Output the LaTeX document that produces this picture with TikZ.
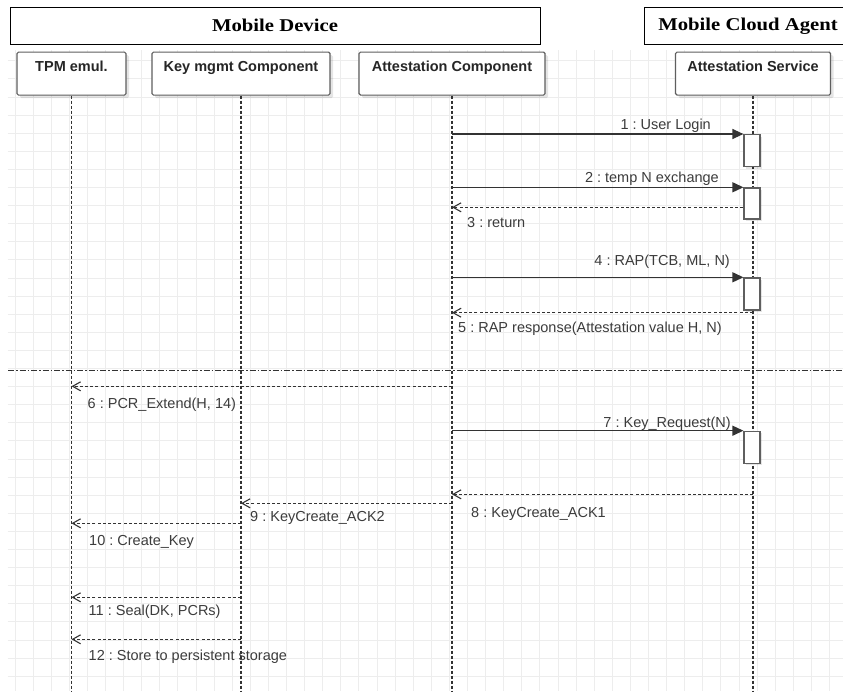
\documentclass[tikz,border=0pt]{standalone}
\usepackage{fontspec}
\setmainfont{Liberation Sans}
\newfontfamily\hdrfont[FakeStretch=1.15]{Liberation Serif}
\usetikzlibrary{arrows.meta,shadows}
\frenchspacing

\definecolor{ink}{HTML}{333333}
\definecolor{boxline}{HTML}{5F5F5F}
\definecolor{gridcol}{HTML}{EDEDED}
\definecolor{lbl}{HTML}{3C3C3C}

\begin{document}
\begin{tikzpicture}[x=1pt,y=-1pt,
  header/.style={draw=black, line width=0.9pt, fill=white, inner sep=0pt,
    font=\hdrfont\bfseries\fontsize{18}{20}\selectfont},
  lifebox/.style={draw=boxline, fill=white, line width=1.2pt, rounded corners=1.5pt,
    inner sep=0pt, text height=19pt, text depth=24pt, anchor=north,
    font=\bfseries\fontsize{14.5}{16}\selectfont, text=black!85,
    drop shadow={shadow xshift=3pt, shadow yshift=-3pt, opacity=0.1, fill=black}},
  actbox/.style={draw=boxline, fill=white, line width=1.2pt, inner sep=0pt,
    minimum width=16pt, anchor=north,
    drop shadow={shadow xshift=2pt, shadow yshift=-2pt, opacity=0.1, fill=black}},
  lifeline/.style={draw=ink, line width=1.4pt, dash pattern=on 3pt off 2pt},
  call/.style={draw=ink, line width=1.3pt, -{Triangle[length=11pt,width=10pt]}},
  reply/.style={draw=ink, line width=1.2pt, dash pattern=on 3pt off 2.2pt,
    -{Straight Barb[length=8pt,width=9pt,line width=1.1pt]}},
  msglabel/.style={font=\fontsize{14.5}{16}\selectfont, text=lbl, inner sep=0pt},
  separator/.style={draw=ink, line width=1.1pt, dash pattern=on 6pt off 2pt on 1.5pt off 2pt},
]
\useasboundingbox (0,0) rectangle (843,691);
\fill[white] (0,0) rectangle (843,691);

% background grid
\foreach \gx in {0,...,45}
  \draw[gridcol, line width=0.8pt] ({14.9+18.1*\gx},50) -- ({14.9+18.1*\gx},691);
\foreach \gy in {0,...,34}
  \draw[gridcol, line width=0.8pt] (7.5,{60.7+18.1*\gy}) -- (843,{60.7+18.1*\gy});

% system headers
\node[header, minimum width=530pt, minimum height=36.5pt] (md) at (275,25.75) {Mobile Device};
\node[header, minimum width=208pt, minimum height=36.5pt] (mca) at (748,25.75) {Mobile Cloud Agent};

% participants
\node[lifebox, minimum width=109pt] (tpm) at (71.5,51.5) {TPM emul.};
\node[lifebox, minimum width=178pt] (key) at (241,51.5) {Key mgmt Component};
\node[lifebox, minimum width=186pt] (att) at (452,51.5) {Attestation Component};
\node[lifebox, minimum width=155pt] (svc) at (753,51.5) {Attestation Service};

\coordinate (bot) at (0,691);
\draw[lifeline] (tpm.south) -- (tpm.south |- bot);
\draw[lifeline] (key.south) -- (key.south |- bot);
\draw[lifeline] (att.south) -- (att.south |- bot);
\draw[lifeline] (svc.south) -- (svc.south |- bot);

% phase separator
\coordinate (sepL) at (8,370.5);
\coordinate (sepR) at (843,370.5);
\draw[separator] (sepL) -- (sepR);

% activations
\node[actbox, minimum height=32pt] (a1) at (752,134) {};
\node[actbox, minimum height=31pt] (a2) at (752,187.3) {};
\node[actbox, minimum height=32pt] (a4) at (752,277.3) {};
\node[actbox, minimum height=32pt] (a7) at (752,430.7) {};

% messages
\draw[call] (att |- a1.north west) -- (a1.north west);
\node[msglabel, anchor=base east] (l1) at (711,129) {1 : User Login};

\draw[call] (att |- a2.north west) -- (a2.north west);
\node[msglabel, anchor=base east] (l2) at (719,182) {2 : temp N exchange};

\draw[reply] (a2.west |- 0,207.3) -- (att |- 0,207.3);
\node[msglabel, anchor=base west] (l3) at (467,227.5) {3 : return};

\draw[call] (att |- a4.north west) -- (a4.north west);
\node[msglabel, anchor=base east] (l4) at (730,265) {4 : RAP(TCB, ML, N)};

\draw[reply] (svc |- 0,312.7) -- (att |- 0,312.7);
\node[msglabel, anchor=base west] (l5) at (458,332) {5 : RAP response(Attestation value H, N)};

\draw[reply] (att |- 0,386.3) -- (tpm |- 0,386.3);
\node[msglabel, anchor=base west] (l6) at (87.5,408.5) {6 : PCR\_Extend(H, 14)};

\draw[call] (att |- a7.north west) -- (a7.north west);
\node[msglabel, anchor=base east] (l7) at (731,427) {7 : Key\_Request(N)};

\draw[reply] (svc |- 0,494.3) -- (att |- 0,494.3);
\node[msglabel, anchor=base west] (l8) at (471,517.3) {8 : KeyCreate\_ACK1};

\draw[reply] (att |- 0,503.3) -- (key |- 0,503.3);
\node[msglabel, anchor=base west] (l9) at (250,521) {9 : KeyCreate\_ACK2};

\draw[reply] (key |- 0,523.3) -- (tpm |- 0,523.3);
\node[msglabel, anchor=base west] (l10) at (89,545) {10 : Create\_Key};

\draw[reply] (key |- 0,597.3) -- (tpm |- 0,597.3);
\node[msglabel, anchor=base west] (l11) at (88.5,615) {11 : Seal(DK, PCRs)};

\draw[reply] (key |- 0,639.3) -- (tpm |- 0,639.3);
\node[msglabel, anchor=base west] (l12) at (88.5,660) {12 : Store to persistent storage};
\end{tikzpicture}
\end{document}
